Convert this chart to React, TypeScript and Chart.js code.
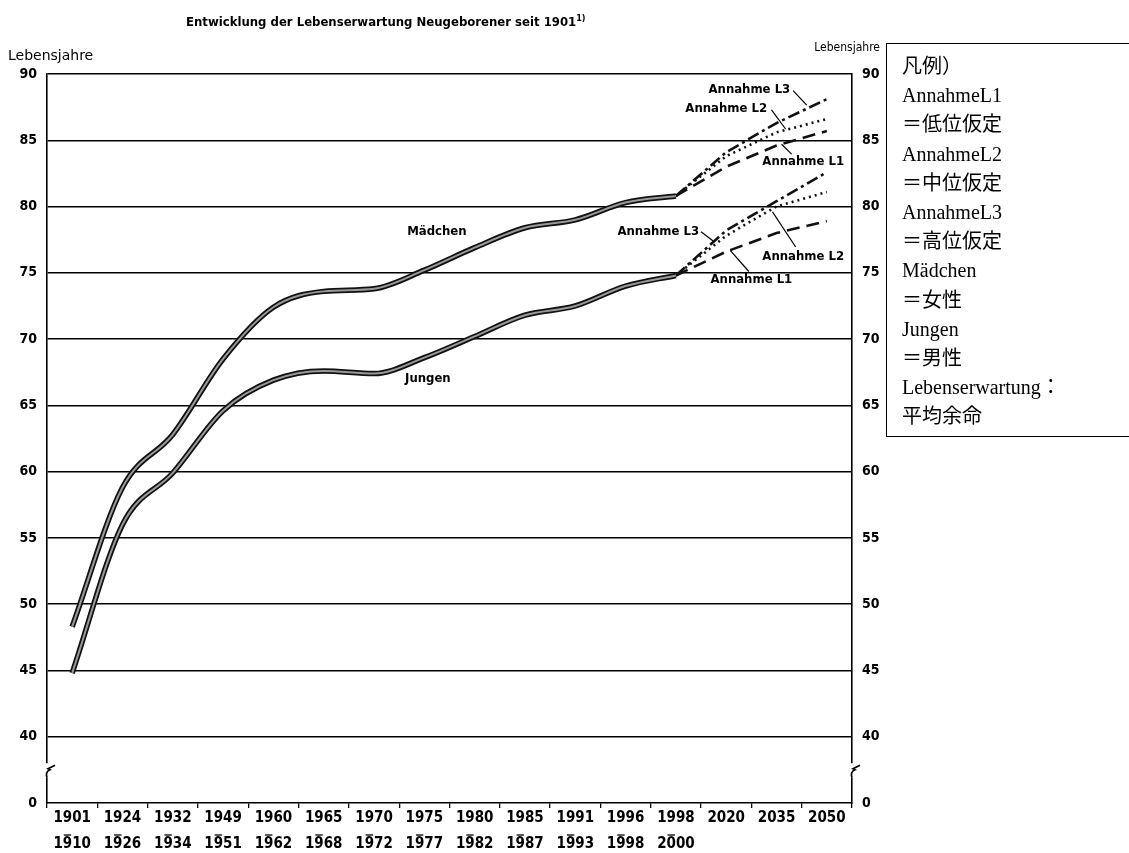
import React, { useEffect, useRef } from "react";
import { Chart, registerables } from "chart.js";
Chart.register(...registerables);

// ---- data ----
const periodStart = ["1901", "1924", "1932", "1949", "1960", "1965", "1970", "1975", "1980", "1985", "1991", "1996", "1998", "2020", "2035", "2050"];
const periodEnd = ["1910", "1926", "1934", "1951", "1962", "1968", "1972", "1977", "1982", "1987", "1993", "1998", "2000", "", "", ""];
const maedchen = [48.3, 58.8, 62.8, 68.5, 72.4, 73.6, 73.8, 75.2, 76.9, 78.4, 79.0, 80.3, 80.8, null, null, null];
const jungen = [44.8, 56.0, 59.9, 64.6, 66.9, 67.6, 67.4, 68.6, 70.2, 71.8, 72.5, 74.0, 74.8, null, null, null];
const maedchenL1 = [null, null, null, null, null, null, null, null, null, null, null, null, 80.8, 83.0, 84.6, 85.7];
const maedchenL2 = [null, null, null, null, null, null, null, null, null, null, null, null, 80.8, 83.8, 85.6, 86.6];
const maedchenL3 = [null, null, null, null, null, null, null, null, null, null, null, null, 80.8, 84.1, 86.3, 88.1];
const jungenL1 = [null, null, null, null, null, null, null, null, null, null, null, null, 74.8, 76.6, 78.0, 78.9];
const jungenL2 = [null, null, null, null, null, null, null, null, null, null, null, null, 74.8, 77.8, 80.0, 81.1];
const jungenL3 = [null, null, null, null, null, null, null, null, null, null, null, null, 74.8, 78.2, 80.4, 82.6];
const yMin = 35; // shown as "0" (axis break)
const yMax = 90;
const yStep = 5;

// annotation texts (positions in category index / axis value)
const notes = [
  { text: "Mädchen", x: 7.25, y: 78.1 },
  { text: "Jungen", x: 7.07, y: 67.0 },
  { text: "Annahme L3", x: 13.46, y: 88.8 },
  { text: "Annahme L2", x: 13.0, y: 87.4 },
  { text: "Annahme L1", x: 14.53, y: 83.4 },
  { text: "Annahme L3", x: 11.65, y: 78.1 },
  { text: "Annahme L2", x: 14.53, y: 76.2 },
  { text: "Annahme L1", x: 13.5, y: 74.45 },
];
const leaders = [
  [14.33, 88.75, 14.6, 87.65],
  [13.9, 87.3, 14.18, 85.85],
  [14.1, 84.7, 14.3, 83.95],
  [12.5, 78.1, 12.76, 77.35],
  [13.92, 79.6, 14.38, 76.95],
  [13.08, 76.7, 13.45, 75.1],
];

const legendLines = ["凡例）", "AnnahmeL1", "＝低位仮定", "AnnahmeL2", "＝中位仮定", "AnnahmeL3", "＝高位仮定", "Mädchen", "＝女性", "Jungen", "＝男性", "Lebenserwartung：", "平均余命"];

const FONT = "'DejaVu Sans Condensed', 'DejaVu Sans', sans-serif";

const annotationPlugin = {
  id: "annot",
  afterDatasetsDraw(chart: any) {
    const { ctx, scales } = chart;
    const xs = scales.x;
    const ys = scales.y;
    ctx.save();
    ctx.fillStyle = "#000";
    ctx.font = `bold 13px ${FONT}`;
    ctx.textAlign = "center";
    ctx.textBaseline = "middle";
    for (const n of notes) {
      ctx.fillText(n.text, xs.getPixelForValue(n.x), ys.getPixelForValue(n.y));
    }
    ctx.strokeStyle = "#000";
    ctx.lineWidth = 1.2;
    for (const l of leaders) {
      ctx.beginPath();
      ctx.moveTo(xs.getPixelForValue(l[0]), ys.getPixelForValue(l[1]));
      ctx.lineTo(xs.getPixelForValue(l[2]), ys.getPixelForValue(l[3]));
      ctx.stroke();
    }
    ctx.restore();
  },
  afterDraw(chart: any) {
    const { ctx, scales, chartArea } = chart;
    const ys = scales.y;
    const xs = scales.x;
    ctx.save();
    // axis breaks
    const yTop = ys.getPixelForValue(38.0);
    const yBot = ys.getPixelForValue(36.9);
    for (const x of [chartArea.left, chartArea.right]) {
      ctx.fillStyle = "#fff";
      ctx.fillRect(x - 3, yTop, 6, yBot - yTop);
      ctx.strokeStyle = "#000";
      ctx.lineWidth = 1.7;
      ctx.beginPath();
      ctx.moveTo(x, yBot);
      ctx.quadraticCurveTo(x - 2, yBot - 6, x + 3, yBot - 8);
      ctx.lineTo(x + 1, yBot - 9);
      ctx.lineTo(x + 8, yTop + 2);
      ctx.stroke();
    }
    // bars over second label line
    ctx.font = `bold 15px ${FONT}`;
    ctx.strokeStyle = "#000";
    ctx.lineWidth = 1.3;
    for (let i = 0; i < periodEnd.length; i++) {
      const t = periodEnd[i];
      if (!t) continue;
      const cx = xs.getPixelForValue(i);
      const w = ctx.measureText(t).width;
      const c1 = ctx.measureText(t[0]).width;
      const c2 = ctx.measureText(t.slice(0, 2)).width;
      const left = cx - w / 2;
      const yb = chartArea.bottom + 32;
      ctx.beginPath();
      ctx.moveTo(left + c1 + 1, yb);
      ctx.lineTo(left + c2 - 1, yb);
      ctx.stroke();
    }
    ctx.restore();
  },
};

export default function App() {
  const ref = useRef<HTMLCanvasElement>(null);
  useEffect(() => {
    const canvas = ref.current;
    if (!canvas) return;
    const hist = (data: any, color: string, width: number, order: number) => ({
      data,
      borderColor: color,
      borderWidth: width,
      pointRadius: 0,
      fill: false,
      order,
      cubicInterpolationMode: "monotone" as const,
      yAxisID: "y",
    });
    const proj = (data: any, dash: number[]) => ({
      data,
      borderColor: "#111",
      borderWidth: 2.6,
      borderDash: dash,
      pointRadius: 0,
      fill: false,
      tension: 0,
      spanGaps: false,
      order: 3,
      yAxisID: "y",
    });
    const tickFont = { family: FONT, size: 14, weight: "bold" as const };
    const chart = new Chart(canvas, {
      type: "line",
      data: {
        labels: periodStart.map((s, i) => (periodEnd[i] ? [s, periodEnd[i]] : [s, ""])),
        datasets: [
          proj(maedchenL1, [13, 7]),
          proj(maedchenL2, [2, 4]),
          proj(maedchenL3, [12, 4, 3, 4]),
          proj(jungenL1, [13, 7]),
          proj(jungenL2, [2, 4]),
          proj(jungenL3, [12, 4, 3, 4]),
          hist(maedchen, "#111", 5.5, 2),
          hist(maedchen, "#9a9a9a", 2, 1),
          hist(jungen, "#111", 5.5, 2),
          hist(jungen, "#9a9a9a", 2, 1),
        ] as any,
      },
      options: {
        animation: false,
        responsive: false,
        devicePixelRatio: 1,
        events: [],
        layout: { padding: { left: 0, right: 232, top: 74, bottom: 0 } },
        plugins: { legend: { display: false }, tooltip: { enabled: false }, title: { display: false } },
        scales: {
          x: {
            type: "category",
            offset: true,
            grid: { display: true, drawOnChartArea: false, drawTicks: true, tickLength: 5, color: "#000", lineWidth: 1.3, offset: true },
            border: { display: true, color: "#000", width: 1.6 },
            ticks: { color: "#000", font: { family: FONT, size: 15, weight: "bold", lineHeight: 26 / 15 }, padding: -3, maxRotation: 0, autoSkip: false },
            afterFit: (s: any) => { s.height = 50; },
          },
          y: {
            type: "linear",
            position: "left",
            min: yMin,
            max: yMax,
            ticks: { stepSize: yStep, color: "#000", font: tickFont, padding: 10, callback: (v: any) => (v === yMin ? "0" : String(v)) },
            grid: { drawTicks: false, color: (c: any) => (c.tick && c.tick.value === yMin ? "rgba(0,0,0,0)" : "#000"), lineWidth: 1.4 },
            border: { display: true, color: "#000", width: 1.6 },
            afterFit: (s: any) => { s.width = 47; },
          },
          y2: {
            type: "linear",
            position: "right",
            min: yMin,
            max: yMax,
            ticks: { stepSize: yStep, color: "#000", font: tickFont, padding: 10, callback: (v: any) => (v === yMin ? "0" : String(v)) },
            grid: { display: false, drawTicks: false },
            border: { display: true, color: "#000", width: 1.6 },
            afterFit: (s: any) => { s.width = 45; },
          },
        },
      },
      plugins: [annotationPlugin],
    });
    return () => chart.destroy();
  }, []);

  return (
    <div style={{ position: "absolute", left: 0, top: 0, width: 1129, height: 853, background: "#fff", overflow: "hidden" }}>
      <canvas ref={ref} width={1129} height={853} style={{ position: "absolute", left: 0, top: 0, width: 1129, height: 853 }} />
      <div style={{ position: "absolute", left: 186, top: 13, fontFamily: FONT, fontWeight: "bold", fontSize: 13, color: "#000", whiteSpace: "nowrap" }}>
        Entwicklung der Lebenserwartung Neugeborener seit 1901<sup style={{ fontSize: 9 }}>1)</sup>
      </div>
      <div style={{ position: "absolute", left: 8, top: 47, fontFamily: "'DejaVu Sans', sans-serif", fontSize: 14, color: "#000", whiteSpace: "nowrap" }}>Lebensjahre</div>
      <div style={{ position: "absolute", right: 1129 - 880, top: 40, fontFamily: FONT, fontSize: 12, color: "#000", whiteSpace: "nowrap" }}>Lebensjahre</div>
      <div style={{ position: "absolute", left: 886, top: 43, width: 260, height: 394, borderLeft: "1.6px solid #000", borderTop: "1.6px solid #000", borderBottom: "1.6px solid #000", boxSizing: "border-box" }}>
        <div style={{ position: "absolute", left: 15, top: 8, fontFamily: "'Liberation Serif', 'Noto Sans CJK JP', serif", fontSize: 20, lineHeight: "29.2px", color: "#000", whiteSpace: "nowrap" }}>
          {legendLines.map((t, i) => (
            <div key={i}>{t}</div>
          ))}
        </div>
      </div>
    </div>
  );
}
